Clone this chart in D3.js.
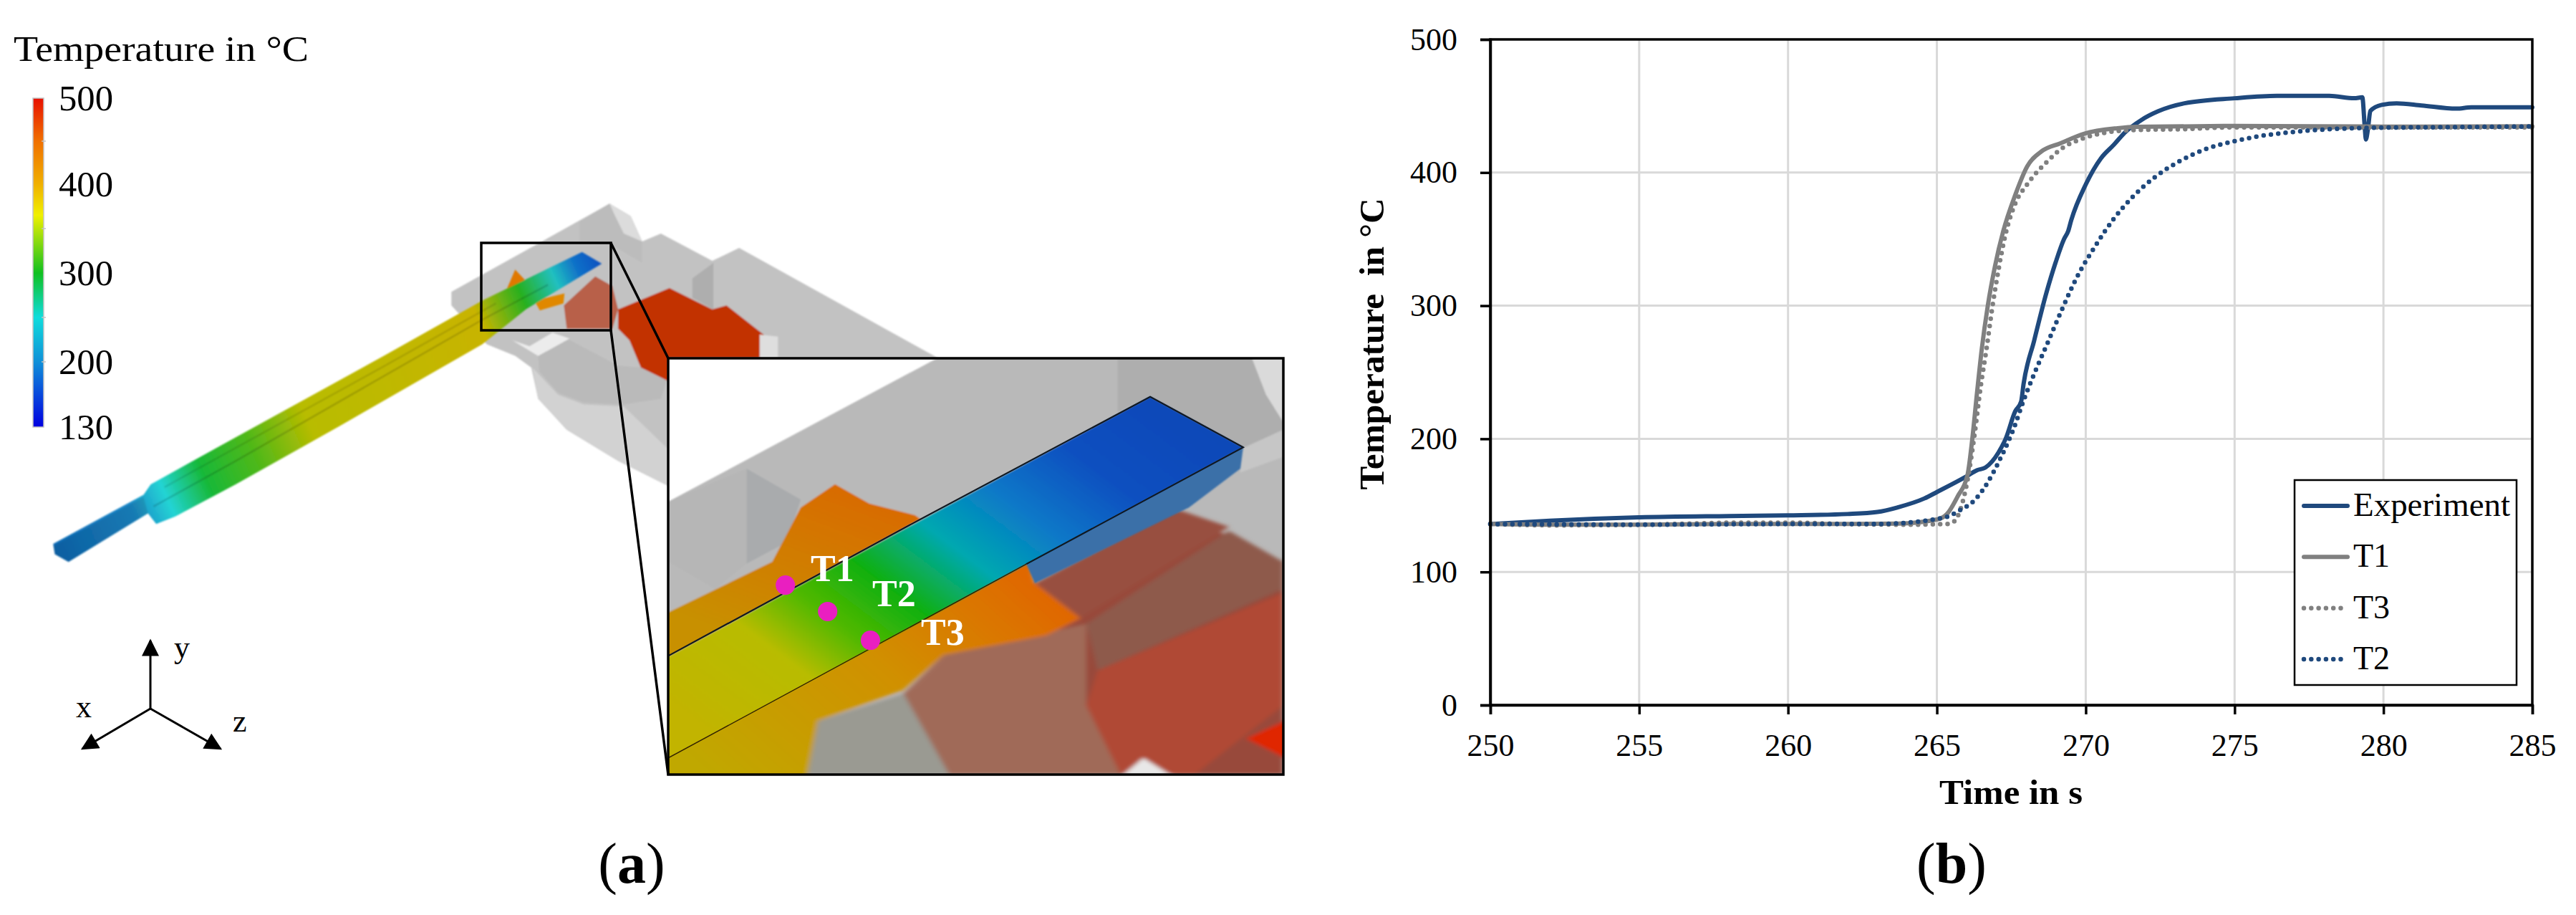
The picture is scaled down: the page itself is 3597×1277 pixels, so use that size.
<!DOCTYPE html>
<html>
<head>
<meta charset="utf-8">
<script src="https://d3js.org/d3.v7.min.js"></script>
<style>
  html, body { margin: 0; padding: 0; background: #fff; }
  svg { display: block; }
  text { font-family: "Liberation Serif", serif; fill: #000; }
</style>
</head>
<body>
<div id="chart"></div>
<script>
// values
var xTicks = [250, 255, 260, 265, 270, 275, 280, 285];
var yTicks = [0, 100, 200, 300, 400, 500];

var expTime = [250, 252, 255, 258, 260, 262, 263, 263.7, 264.58, 265, 265.95, 266.35, 266.63, 267.07, 267.31, 267.63, 267.83, 267.91, 268.27, 268.67, 268.99, 269.27, 269.41, 269.51, 270, 270.51, 270.95, 271.31, 271.87, 272.43, 273.32, 275, 276.42, 278.18, 279.02, 279.29, 279.37, 279.41, 279.48, 279.56, 279.94, 280.44, 281.28, 282.45, 282.95, 285];
var expTemp = [136, 138.5, 141, 142, 142.5, 143.5, 145, 148.6, 155.2, 160, 171.2, 176.4, 178.4, 189.7, 200, 220.6, 228, 241, 274, 309, 332.6, 350, 356, 364, 391, 410.7, 421, 430, 439.5, 446, 452, 455.8, 457.6, 457.6, 455.8, 456.5, 434.6, 424.8, 432.8, 446.3, 450.8, 452, 450.4, 448, 449, 449];

var t1Time = [250, 252, 255, 258, 260, 262, 263.7, 265, 265.34, 265.7, 266.03, 266.19, 266.35, 266.51, 266.71, 266.95, 267.23, 267.63, 268.03, 268.51, 269.15, 269.95, 271.07, 271.7, 275, 280, 285];
var t1Temp = [136, 135.5, 135.5, 136, 136, 136, 136.3, 139.4, 143.5, 156.8, 173, 200, 235, 267.8, 300, 329.5, 356, 383, 404.5, 415.8, 422, 429.2, 433.3, 434.3, 435, 434.5, 434.8];

var t3Time = [250, 252, 255, 258.5, 260, 262, 264, 265.34, 265.58, 265.8, 266.03, 266.27, 266.47, 266.67, 266.87, 267.07, 267.31, 267.63, 268.03, 268.31, 268.63, 269.19, 269.83, 270.67, 271.7, 273.3, 275, 285];
var t3Temp = [136, 135, 135.5, 137, 137, 136, 135.5, 136, 138, 147.6, 169, 204, 239, 268, 300, 327, 354, 376.6, 391, 399, 406.5, 418, 425, 430, 432, 432.6, 434, 434];

var t2Time = [250, 255, 260, 263, 264, 265, 265.34, 265.79, 266.19, 266.51, 266.91, 267.23, 267.55, 267.95, 268.31, 268.71, 269.19, 269.71, 270.27, 270.95, 271.59, 272.35, 273.16, 274.08, 275, 275.75, 276.97, 278.43, 279.94, 281.7, 285];
var t2Temp = [136, 135.5, 136, 136, 137, 139.8, 141.4, 146.6, 152.3, 160.5, 175.3, 189.7, 206, 231, 251, 271.5, 296.6, 321.7, 343, 365.5, 382, 397, 408.6, 418, 423.6, 427, 430.5, 432.8, 433.7, 434, 434.6];

var seriesNames = ["Experiment", "T1", "T3", "T2"];

// color bar of the simulation
var barTicks = [500, 400, 300, 200, 130];
var barStops = [130, 200, 250, 300, 365, 400, 450, 500];
var barColors = ["#0000e0", "#1090d8", "#10dcdc", "#10c020", "#f0f000", "#f0b000", "#f07000", "#e81000"];

var navy = "#1f497d", gray = "#808080";

var W = 3597, H = 1277;
var margin = {left: 2081, right: 3536, top: 55, bottom: 984};

var svg = d3.select("#chart").append("svg").attr("width", W).attr("height", H);
var defs = svg.append("defs");

function blurFilter(id, dev) {
  defs.append("filter").attr("id", id).attr("x", "-5%").attr("y", "-5%").attr("width", "110%").attr("height", "110%")
    .append("feGaussianBlur").attr("stdDeviation", dev);
}
blurFilter("soft", 1.6);
blurFilter("softer", 5);
defs.append("clipPath").attr("id", "insetClip").append("rect")
  .attr("x", 418).attr("y", 405).attr("width", 1077).attr("height", 1073);

function grad(id, x1, y1, x2, y2, stops) {
  var g = defs.append("linearGradient").attr("id", id).attr("gradientUnits", "userSpaceOnUse")
    .attr("x1", x1).attr("y1", y1).attr("x2", x2).attr("y2", y2);
  stops.forEach(function(s) { g.append("stop").attr("offset", s[0]).attr("stop-color", s[1]); });
}
function poly(g, pts, fill, op) {
  return g.append("polygon").attr("points", pts.map(function(p) { return p.join(","); }).join(" "))
    .attr("fill", fill).attr("opacity", op == null ? 1 : op);
}

/********** (b) line chart **********/
var x = d3.scaleLinear().domain([250, 285]).range([margin.left, margin.right]);
var y = d3.scaleLinear().domain([0, 500]).range([margin.bottom, margin.top]);

var plot = svg.append("g").attr("class", "plot");

// grid
plot.append("g").selectAll("line").data(xTicks.slice(1, -1)).enter().append("line")
  .attr("x1", x).attr("x2", x).attr("y1", margin.top).attr("y2", margin.bottom)
  .attr("stroke", "#d9d9d9").attr("stroke-width", 3);
plot.append("g").selectAll("line").data(yTicks.slice(1, -1)).enter().append("line")
  .attr("y1", y).attr("y2", y).attr("x1", margin.left).attr("x2", margin.right)
  .attr("stroke", "#d9d9d9").attr("stroke-width", 3);

var line = d3.line().x(function(d) { return x(d[0]); }).y(function(d) { return y(d[1]); })
  .curve(d3.curveMonotoneX);

var series = [
  {time: expTime, temp: expTemp, color: navy, width: 6, dash: null},
  {time: t1Time, temp: t1Temp, color: gray, width: 6, dash: null},
  {time: t3Time, temp: t3Temp, color: gray, width: 6.5, dash: "0 10.3"},
  {time: t2Time, temp: t2Temp, color: navy, width: 6.5, dash: "0 10.3"}
];
series.forEach(function(s) {
  plot.append("path").datum(d3.zip(s.time, s.temp)).attr("d", line)
    .attr("fill", "none").attr("stroke", s.color).attr("stroke-width", s.width)
    .attr("stroke-linecap", "round").attr("stroke-dasharray", s.dash);
});

// frame + axes
plot.append("rect").attr("x", margin.left).attr("y", margin.top)
  .attr("width", margin.right - margin.left).attr("height", margin.bottom - margin.top)
  .attr("fill", "none").attr("stroke", "#000").attr("stroke-width", 3.5);

var xAxis = plot.append("g").attr("transform", "translate(0," + margin.bottom + ")")
  .call(d3.axisBottom(x).tickValues(xTicks).tickSize(13).tickPadding(27).tickFormat(d3.format("d")));
var yAxis = plot.append("g").attr("transform", "translate(" + margin.left + ",0)")
  .call(d3.axisLeft(y).tickValues(yTicks).tickSize(14).tickPadding(32).tickFormat(d3.format("d")));
[xAxis, yAxis].forEach(function(a) {
  a.select(".domain").attr("stroke-width", 3.5);
  a.selectAll(".tick line").attr("stroke-width", 3.5);
  a.selectAll("text").style("font-family", '"Liberation Serif", serif').style("font-size", "44px");
});

plot.append("text").attr("x", 2808).attr("y", 1122).attr("text-anchor", "middle")
  .attr("font-size", 48).attr("font-weight", "bold").attr("textLength", 200).attr("lengthAdjust", "spacingAndGlyphs")
  .text("Time in s");
plot.append("text").attr("transform", "translate(1932,480) rotate(-90)").attr("text-anchor", "middle")
  .attr("font-size", 48).attr("font-weight", "bold").attr("xml:space", "preserve")
  .attr("textLength", 407).attr("lengthAdjust", "spacingAndGlyphs").text("Temperature  in °C");

// legend
var legend = plot.append("g");
legend.append("rect").attr("x", 3204).attr("y", 670).attr("width", 310).attr("height", 286)
  .attr("fill", "#fff").attr("stroke", "#000").attr("stroke-width", 2.5);
var legendY = d3.scalePoint().domain(seriesNames).range([706, 920]);
var legendStyle = [series[0], series[1], series[2], series[3]];
seriesNames.forEach(function(name, i) {
  var s = legendStyle[i];
  legend.append("line").attr("x1", 3217).attr("x2", s.dash ? 3271 : 3278)
    .attr("y1", legendY(name)).attr("y2", legendY(name))
    .attr("stroke", s.color).attr("stroke-width", s.width).attr("stroke-linecap", "round")
    .attr("stroke-dasharray", s.dash);
  legend.append("text").attr("x", 3286).attr("y", legendY(name) + 14).attr("font-size", 46)
    .text(name);
});
legend.select("text").attr("textLength", 219).attr("lengthAdjust", "spacingAndGlyphs");

svg.append("text").attr("x", 2725).attr("y", 1232).attr("text-anchor", "middle").attr("font-size", 80)
  .html('(<tspan font-weight="bold">b</tspan>)');

/********** (a) simulation picture **********/
var panelA = svg.append("g");

// color bar
var barY = d3.scaleLinear().domain([130, 200, 300, 400, 500]).range([596, 505, 381, 257, 137]);
var barColor = d3.scaleLinear().domain(barStops).range(barColors);
var barGrad = defs.append("linearGradient").attr("id", "barGrad").attr("x1", 0).attr("y1", 1).attr("x2", 0).attr("y2", 0);
barStops.forEach(function(v) {
  barGrad.append("stop").attr("offset", (barY(130) - barY(v)) / (barY(130) - barY(500))).attr("stop-color", barColor(v));
});
panelA.append("rect").attr("x", 46).attr("y", barY(500)).attr("width", 15).attr("height", barY(130) - barY(500))
  .attr("fill", "url(#barGrad)").attr("stroke", "#c4c4c4").attr("stroke-width", 1.5);
panelA.selectAll(".bt").data([450, 350, 250, 200]).enter().append("line")
  .attr("x1", 58).attr("x2", 64).attr("y1", barY).attr("y2", barY).attr("stroke", "#c4c4c4").attr("stroke-width", 1.5);
panelA.selectAll(".bl").data(barTicks).enter().append("text")
  .attr("x", 82).attr("y", function(d) { return barY(d) + 17; }).attr("font-size", 50)
  .attr("textLength", 76).attr("lengthAdjust", "spacingAndGlyphs").text(function(d) { return d; });
panelA.append("text").attr("x", 19).attr("y", 85).attr("font-size", 50).attr("textLength", 412)
  .attr("lengthAdjust", "spacingAndGlyphs").text("Temperature in °C");

// overview part, coordinates as read in the crop of the left side
var ov = panelA.append("g").attr("transform", "translate(600,280) scale(" + (1 / 1.2544) + "," + (1 / 1.845) + ")");
var ovGray = ov.append("g").attr("filter", "url(#soft)");
poly(ovGray, [[38,235],[315,8],[352,40],[372,105],[405,85],[495,155],[542,122],[890,405],[418,405],[418,735],[330,670],[240,590],[190,510],[178,430],[150,400],[100,370],[38,270]], "#c2c2c2");
poly(ovGray, [[262,55],[315,8],[352,40],[372,105],[372,160],[320,115],[262,105]], "#bcbcbc");
poly(ovGray, [[315,8],[352,40],[372,105],[340,85],[325,40]], "#dcdcdc");
poly(ovGray, [[190,400],[240,355],[330,425],[370,430],[415,465],[405,510],[340,525],[270,520],[225,495],[192,440]], "#bababa");
poly(ovGray, [[145,360],[190,400],[245,355],[215,340],[175,375]], "#ececec");
poly(ovGray, [[460,200],[497,160],[497,280],[460,250]], "#aeaeae");
poly(ovGray, [[190,510],[240,590],[330,670],[418,735],[418,640],[340,530],[270,525],[225,500],[180,430]], "#d2d2d2");
// hot tool
poly(ovGray, [[330,280],[420,225],[495,280],[520,270],[585,345],[578,405],[418,405],[418,465],[370,430],[350,360],[330,330]], "#c23000");
poly(ovGray, [[578,345],[610,350],[610,405],[578,405]], "#dedede");
poly(ovGray, [[235,270],[290,195],[320,220],[330,280],[320,330],[240,330]], "#b8604a");

// strip, coordinates as read in the crop of the left side
grad("stripGrad", 97, 935, 1098, 450, [
  [0, "#0e6ab4"], [0.14, "#1c88c8"], [0.2, "#22d4d4"], [0.27, "#18b838"], [0.36, "#50b818"], [0.46, "#b8bc00"],
  [0.78, "#c8b400"], [0.86, "#28b020"], [0.92, "#20c0c0"], [0.96, "#1070c8"], [1, "#0c50c0"]
]);
var st = panelA.append("g").attr("transform", "scale(" + (1 / 1.3067) + "," + (1 / 1.228) + ")").attr("filter", "url(#soft)");
poly(st, [[925,495],[940,462],[960,482],[945,500]], "#e07800");
poly(st, [[975,515],[1030,503],[1028,520],[985,532]], "#e08800");
poly(st, [[97,932],[262,848],[275,830],[400,765],[700,610],[880,515],[1062,432],[1098,452],[960,530],[880,590],[620,730],[430,830],[320,885],[285,898],[270,880],[125,963],[100,950]], "url(#stripGrad)");
st.append("path").attr("d", "M280,868L430,790L880,548L1000,488").attr("fill", "none").attr("stroke", "#000").attr("stroke-opacity", 0.16).attr("stroke-width", 3);
st.append("path").attr("d", "M300,835L700,628L905,520").attr("fill", "none").attr("stroke", "#000").attr("stroke-opacity", 0.12).attr("stroke-width", 3);
poly(st, [[97,936],[262,852],[270,880],[125,963],[100,950]], "#000", 0.1);

// close-up, same crop coordinates as the overview
grad("insetBar", 470, 1360, 1340, 570, [
  [0, "#c2b400"], [0.2, "#b8bc00"], [0.31, "#50b800"], [0.42, "#10b010"], [0.55, "#00a8b0"], [0.68, "#0a78c8"], [0.82, "#0a50c0"], [1, "#0a48b8"]
]);
grad("insetUpper", 500, 1100, 700, 740, [[0, "#c89000"], [1, "#d86c00"]]);
grad("insetLower", 1080, 1020, 480, 1470, [[0, "#e06800"], [0.45, "#d09000"], [1, "#c0a800"]]);

var ins = ov.append("g").attr("clip-path", "url(#insetClip)");
ins.append("rect").attr("x", 418).attr("y", 405).attr("width", 1077).attr("height", 1073).attr("fill", "#fff");
var insBack = ins.append("g").attr("filter", "url(#soft)");
poly(insBack, [[418,775],[890,405],[1495,405],[1495,1478],[418,1478]], "#b9b9b9");
poly(insBack, [[1205,405],[1495,405],[1495,600],[1420,640],[1262,505],[1205,545]], "#aeaeae");
poly(insBack, [[1440,405],[1495,405],[1495,570],[1465,500]], "#dadada");
poly(insBack, [[1420,640],[1495,590],[1495,660],[1420,700]], "#c6c6c6");
poly(insBack, [[555,690],[650,770],[625,880],[555,935]], "#a9abad");
poly(insBack, [[418,775],[555,690],[555,935],[500,1000],[418,930]], "#b6b6b6");
poly(insBack, [[418,1060],[600,930],[650,790],[710,730],[770,780],[850,810],[860,820],[418,1175]], "url(#insetUpper)");

var insSoft = ins.append("g").attr("filter", "url(#softer)");
poly(insSoft, [[1060,985],[1300,795],[1495,930],[1495,1478],[660,1478],[680,1350],[830,1270],[900,1180],[1080,1120],[1140,1075]], "#98483a");
poly(insSoft, [[1060,985],[1310,795],[1400,840],[1140,1075]], "#985040");
poly(insSoft, [[1150,1090],[1400,850],[1495,930],[1495,1000],[1170,1210]], "#8e5a4c");
poly(insSoft, [[1170,1210],[1495,1010],[1495,1300],[1340,1478],[1210,1478],[1150,1300]], "#b04a34");
poly(insSoft, [[830,1270],[900,1170],[1150,1090],[1150,1300],[1210,1478],[820,1478]], "#a06a58");
poly(insSoft, [[660,1478],[680,1340],[830,1270],[910,1478]], "#9a9a92");
poly(insSoft, [[1205,1490],[1250,1435],[1310,1490]], "#e8e8e8");
poly(insSoft, [[1505,1335],[1430,1385],[1505,1440]], "#e02800");
poly(insSoft, [[400,1430],[1050,920],[1060,985],[1140,1075],[1080,1120],[900,1170],[830,1260],[680,1340],[660,1490],[400,1490]], "url(#insetLower)");

var insBar = ins.append("g").attr("filter", "url(#soft)");
poly(insBar, [[1425,635],[1420,690],[1330,790],[1060,985],[1045,936]], "#3a70a8");
poly(insBar, [[418,1175],[1262,505],[1425,635],[418,1435]], "url(#insetBar)");
ins.append("path").attr("d", "M418,1172L860,820L1262,505L1425,635L1045,936").attr("fill", "none").attr("stroke", "#101820").attr("stroke-width", 3.5);
ins.append("path").attr("d", "M1045,936L418,1435").attr("fill", "none").attr("stroke", "#302000").attr("stroke-width", 2.4);

// boxes
var pointDots = [[623, 990], [697, 1058], [772, 1132]];
ins.selectAll("ellipse").data(pointDots).enter().append("ellipse")
  .attr("cx", function(d) { return d[0]; }).attr("cy", function(d) { return d[1]; })
  .attr("rx", 17).attr("ry", 25).attr("fill", "#e91fc0");

var boxes = panelA.append("g").attr("fill", "none").attr("stroke", "#000").attr("stroke-width", 3.5);
boxes.append("rect").attr("x", 672).attr("y", 339).attr("width", 181).attr("height", 122);
boxes.append("rect").attr("x", 933).attr("y", 500).attr("width", 859).attr("height", 581);
boxes.append("path").attr("d", "M853,339L933,500M853,461L933,1081");

var pointNames = ["T1", "T2", "T3"];
var pointLabelX = [1132, 1218, 1286], pointLabelY = [811, 846, 900];
pointNames.forEach(function(n, i) {
  panelA.append("text").attr("x", pointLabelX[i]).attr("y", pointLabelY[i]).attr("font-size", 52)
    .attr("font-weight", "bold").style("fill", "#fff").text(n);
});

// coordinate triad
defs.append("marker").attr("id", "arrow").attr("viewBox", "0 0 10 10").attr("refX", 9).attr("refY", 5)
  .attr("markerWidth", 9).attr("markerHeight", 8).attr("markerUnits", "strokeWidth").attr("orient", "auto")
  .append("path").attr("d", "M0,0L10,5L0,10Z");
var triad = panelA.append("g").attr("stroke", "#000").attr("stroke-width", 3);
[[210, 894], [115, 1045], [308, 1045]].forEach(function(p) {
  triad.append("line").attr("x1", 210).attr("y1", 989).attr("x2", p[0]).attr("y2", p[1]).attr("marker-end", "url(#arrow)");
});
var triadNames = ["y", "x", "z"], triadX = [243, 106, 325], triadY = [918, 1001, 1021];
triadNames.forEach(function(n, i) {
  panelA.append("text").attr("x", triadX[i]).attr("y", triadY[i]).attr("font-size", 44).text(n);
});

svg.append("text").attr("x", 882).attr("y", 1232).attr("text-anchor", "middle").attr("font-size", 80)
  .html('(<tspan font-weight="bold">a</tspan>)');
</script>
</body>
</html>
